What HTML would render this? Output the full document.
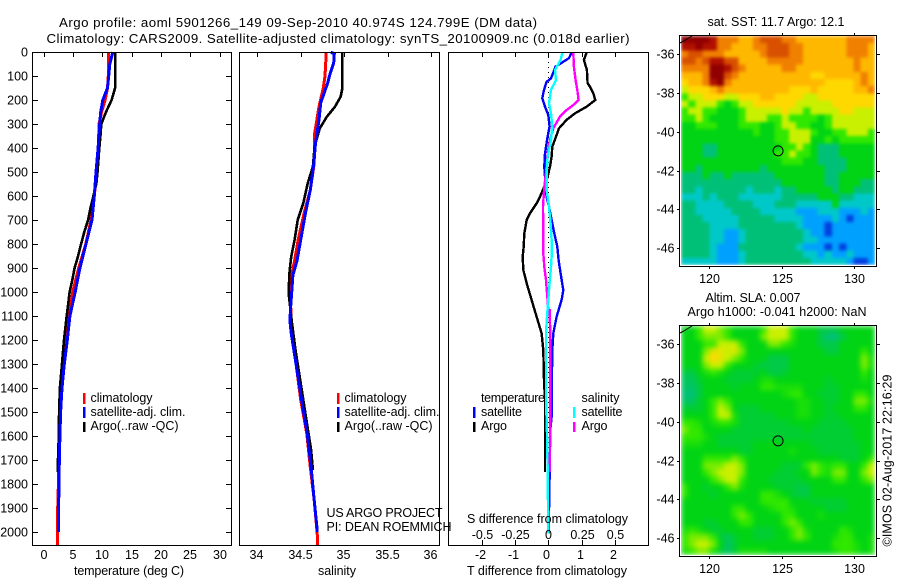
<!DOCTYPE html>
<html>
<head>
<meta charset="utf-8">
<title>Argo profile</title>
<style>
html,body{margin:0;padding:0;background:#fff;}
svg{display:block;}
text{font-family:"Liberation Sans",sans-serif;font-size:12.5px;fill:#000;}
text.big{font-size:13.3px;}
</style>
</head>
<body>
<svg id="chart" width="900" height="580" viewBox="0 0 900 580" xmlns="http://www.w3.org/2000/svg">
<defs>
<filter id="soft-sst" x="0" y="0" width="1" height="1" color-interpolation-filters="sRGB"><feGaussianBlur stdDeviation="1.6" edgeMode="duplicate"/></filter>
<filter id="soft-sla" x="0" y="0" width="1" height="1" color-interpolation-filters="sRGB"><feGaussianBlur stdDeviation="2.6" edgeMode="duplicate"/></filter>
</defs>
<rect x="0" y="0" width="900" height="580" fill="#fff"/>
<g id="marks"></g>
<rect x="32.5" y="52.5" width="199" height="493" fill="none" stroke="#000"/>
<rect x="239.5" y="52.5" width="200" height="493" fill="none" stroke="#000"/>
<rect x="448.5" y="52.5" width="200" height="493" fill="none" stroke="#000"/>
<rect x="679.5" y="35.5" width="197" height="231" fill="none" stroke="#000"/>
<rect x="679.5" y="325.5" width="197" height="231" fill="none" stroke="#000"/>
<g id="ticks"></g>
<text class="big" x="59" y="27" textLength="478" lengthAdjust="spacing">Argo profile: aoml 5901266_149 09-Sep-2010 40.974S 124.799E (DM data)</text>
<text class="big" x="46.5" y="43" textLength="583" lengthAdjust="spacing">Climatology: CARS2009. Satellite-adjusted climatology: synTS_20100909.nc (0.018d earlier)</text>
<text x="74" y="575" textLength="110" lengthAdjust="spacing">temperature (deg C)</text>
<text x="318" y="575" textLength="38" lengthAdjust="spacing">salinity</text>
<text x="467" y="575" textLength="160" lengthAdjust="spacing">T difference from climatology</text>
<text x="467" y="523" textLength="161" lengthAdjust="spacing">S difference from climatology</text>
<text x="326.5" y="517" textLength="116" lengthAdjust="spacing">US ARGO PROJECT</text>
<text x="326.5" y="531" textLength="125" lengthAdjust="spacing">PI: DEAN ROEMMICH</text>

<g>
<rect x="83" y="393" width="2.5" height="11" fill="#f00"/>
<rect x="83" y="407" width="2.5" height="11" fill="#00f"/>
<rect x="83" y="422" width="2.5" height="10" fill="#000"/>
<text x="90.5" y="402" textLength="62" lengthAdjust="spacing">climatology</text>
<text x="90.5" y="416" textLength="95" lengthAdjust="spacing">satellite-adj. clim.</text>
<text x="90.5" y="430" textLength="88" lengthAdjust="spacing">Argo(..raw -QC)</text>
</g>
<g>
<rect x="337" y="393" width="2.5" height="11" fill="#f00"/>
<rect x="337" y="407" width="2.5" height="11" fill="#00f"/>
<rect x="337" y="422" width="2.5" height="10" fill="#000"/>
<text x="344.5" y="402" textLength="62" lengthAdjust="spacing">climatology</text>
<text x="344.5" y="416" textLength="95" lengthAdjust="spacing">satellite-adj. clim.</text>
<text x="344.5" y="430" textLength="88" lengthAdjust="spacing">Argo(..raw -QC)</text>
</g>
<g>
<text x="481" y="402" textLength="64" lengthAdjust="spacing">temperature</text>
<text x="481" y="416" textLength="41" lengthAdjust="spacing">satellite</text>
<text x="481" y="430" textLength="26" lengthAdjust="spacing">Argo</text>
<rect x="473" y="407" width="2.5" height="11" fill="#00f"/>
<rect x="473" y="422" width="2.5" height="10" fill="#000"/>
<text x="581.5" y="402" textLength="38" lengthAdjust="spacing">salinity</text>
<text x="581.5" y="416" textLength="41" lengthAdjust="spacing">satellite</text>
<text x="581.5" y="430" textLength="26" lengthAdjust="spacing">Argo</text>
<rect x="573" y="407" width="2.5" height="11" fill="#0ff"/>
<rect x="573" y="422" width="2.5" height="10" fill="#f0f"/>
</g>
<text x="707.5" y="26" textLength="137" lengthAdjust="spacing">sat. SST: 11.7 Argo: 12.1</text>
<text x="705.5" y="302" textLength="95" lengthAdjust="spacing">Altim. SLA: 0.007</text>
<text x="687.5" y="316" textLength="179" lengthAdjust="spacing">Argo h1000: -0.041 h2000: NaN</text>
<text transform="translate(891.5 546.5) rotate(-90)" x="0" y="0" textLength="172" lengthAdjust="spacing">©IMOS 02-Aug-2017 22:16:29</text>
</svg>
<script>
// ---------- profile data ----------
const tempClimDepth = [0,100,150,200,250,300,400,500,600,700,800,900,1000,1100,1200,1300,1400,1500,1600,1700,1800,1900,2000,2055];
const tempClimValue = [11.04,11.04,10.9,10.5,9.9,9.45,9.35,9.05,8.65,8.1,7.2,6.0,4.97,4.35,3.85,3.44,3.04,2.8,2.7,2.6,2.53,2.42,2.42,2.42];
const tempSatDepth = [0,50,100,150,200,250,300,400,500,600,700,800,900,1000,1100,1200,1300,1400,1500,1600,1700,1800,1900,2000];
const tempSatValue = [11.8,11.3,11.1,10.9,10.1,9.74,9.57,9.3,8.94,8.65,8.26,7.24,6.2,5.4,4.5,4.06,3.55,3.15,2.92,2.8,2.7,2.65,2.55,2.55];
const tempArgoDepth = [0,150,200,250,300,350,400,500,550,600,650,700,750,800,850,900,950,1000,1050,1100,1200,1300,1400,1500,1600,1700,1750];
const tempArgoValue = [12.2,12.2,11.6,10.65,9.85,9.7,9.5,9.2,9.0,8.5,8.0,7.6,6.95,6.4,5.9,5.3,4.9,4.45,4.2,3.95,3.5,3.15,2.8,2.65,2.6,2.47,2.4];

const salClimDepth = [0,100,150,228,340,465,575,670,783,870,930,1060,1172,1310,1450,1590,1730,1867,2005,2055];
const salClimValue = [34.795,34.78,34.76,34.71,34.66,34.655,34.61,34.54,34.47,34.43,34.395,34.385,34.395,34.45,34.5,34.57,34.61,34.655,34.69,34.695];
const salSatDepth = [0,8,46,87,130,171,212,283,380,465,575,670,783,870,930,1060,1117,1172,1310,1450,1590,1730,1867,1992,2000];
const salSatValue = [34.845,34.887,34.88,34.84,34.81,34.77,34.73,34.71,34.67,34.65,34.61,34.555,34.5,34.457,34.41,34.385,34.375,34.39,34.45,34.51,34.575,34.62,34.655,34.69,34.69];
const salArgoDepth = [0,150,186,228,270,318,394,478,547,630,700,783,853,922,1005,1033,1117,1242,1380,1520,1658,1742];
const salArgoValue = [34.98,34.98,34.96,34.895,34.8,34.72,34.66,34.64,34.58,34.53,34.465,34.43,34.39,34.37,34.36,34.37,34.395,34.44,34.5,34.56,34.62,34.64];

const diffTArgoDepth = [3,33,75,130,144,172,200,228,256,283,318,353,394,436,478,519,561,603,631,672,700,756,811,853,908,964,1033,1103,1172,1242,1367,1450,1750];
const diffTArgoValue = [1.15,1.07,1.16,1.18,1.25,1.35,1.41,1.15,0.8,0.55,0.32,0.23,0.12,0.1,0.05,-0.02,-0.12,-0.25,-0.35,-0.55,-0.65,-0.72,-0.74,-0.77,-0.75,-0.65,-0.5,-0.35,-0.2,-0.15,-0.13,-0.1,-0.1];
const diffTSatDepth = [3,26,61,110,124,158,193,228,262,311,353,422,478,519,561,603,644,700,756,811,867,922,992,1033,1103,1172,1242,1450,1520,1575,1770,2006];
const diffTSatValue = [0.7,0.62,0.22,0.08,-0.05,-0.13,-0.18,-0.1,0,0.04,-0.02,-0.1,-0.12,-0.1,-0.08,-0.05,0.02,0.1,0.18,0.27,0.31,0.37,0.45,0.4,0.25,0.15,0.12,0.1,0.1,0.06,0.04,0.01];
const diffSSatDepth = [3,33,75,117,158,214,256,311,367,436,506,575,644,714,783,853,894,992,1033,1103,1172,1311,1450,1589,1728,2006];
const diffSSatValue = [0.105,0.0925,0.05,0.0575,0.02,0.005,0.02,0.03,0.02,-0.005,-0.0125,-0.0125,0.005,0.0175,0.025,0.025,0.02,0.005,0,-0.01,-0.0175,-0.0175,-0.0175,-0.01,-0.005,0];
const diffSArgoDepth = [3,61,117,158,200,221,242,269,318,367,422,506,561,644,783,839,894,950,1019,1075,1075,1172,1311,1450,1589,1750];
const diffSArgoValue = [0.1875,0.1925,0.205,0.2175,0.2275,0.1875,0.1375,0.0875,0.0375,0.0125,-0.005,-0.0175,-0.03,-0.04,-0.0375,-0.0375,-0.03,-0.0175,-0.0075,0,0.01,0.015,0.015,0.015,0.015,0.01];

// ---------- tick labels ----------
const depthTicks = [0,100,200,300,400,500,600,700,800,900,1000,1100,1200,1300,1400,1500,1600,1700,1800,1900,2000];
const tempTicks = [0,5,10,15,20,25,30];
const salTicks = [34,34.5,35,35.5,36];
const diffTTicks = [-2,-1,0,1,2];
const diffSTicks = [-0.5,-0.25,0,0.25,0.5];
const lonTicks = [120,125,130];
const latTicks = [-36,-38,-40,-42,-44,-46];
const argoLon = 124.799;
const argoLat = -40.974;

// ---------- map colour levels (0 deep blue .. 12 dark red), rows north to south ----------
const sstLevels = [
[12,12,12,12,11,9,9,9,8,8,9,10,10,10,9,9,8,8,8,8,8,8,8,9,9,9,9],
[11,11,12,11,11,9,9,8,8,8,9,9,10,10,10,9,9,8,8,8,8,8,8,9,9,9,8],
[9,10,10,9,9,9,8,8,8,8,8,9,10,10,10,9,9,8,8,8,8,8,8,9,9,9,8],
[10,10,9,10,11,11,10,10,8,8,8,8,9,9,9,9,9,8,8,8,8,8,8,8,9,8,8],
[9,9,9,9,12,12,11,10,9,8,8,8,8,8,9,9,8,8,8,8,8,8,8,8,9,8,8],
[8,8,8,9,12,12,10,9,8,8,8,8,8,8,8,8,8,8,7,7,8,8,8,8,8,9,8],
[7,8,8,9,11,12,9,8,8,8,8,8,8,8,8,8,8,8,8,8,7,7,7,7,8,9,8],
[6,7,7,7,8,9,8,8,8,8,8,8,8,8,8,7,7,7,8,7,7,7,7,7,8,8,9],
[5,6,6,7,7,7,6,6,7,7,7,8,8,7,7,7,7,6,6,7,7,7,7,7,7,7,7],
[6,5,6,6,6,5,4,5,6,6,7,7,7,7,7,7,6,6,6,6,6,7,7,7,7,7,7],
[5,6,6,5,5,4,4,4,5,6,6,6,6,6,7,6,6,5,6,6,6,6,7,7,6,6,6],
[5,5,6,5,4,4,4,4,5,6,6,6,5,5,6,5,5,5,5,4,5,6,6,6,6,6,6],
[4,4,5,5,5,4,4,4,5,5,5,4,4,5,6,6,5,5,4,4,5,6,6,6,6,6,6],
[4,4,4,4,4,4,4,4,4,4,5,4,4,5,5,6,6,6,5,4,4,5,5,6,6,6,5],
[4,4,4,4,4,4,4,4,4,4,4,4,4,5,5,6,6,6,4,4,5,4,5,5,5,5,5],
[4,4,4,3,3,4,4,4,4,4,4,4,4,4,5,5,6,5,4,3,3,3,4,4,4,4,4],
[4,4,4,3,3,4,4,4,4,4,4,4,4,5,5,6,5,5,4,3,3,3,4,4,4,4,4],
[4,4,4,4,4,4,4,4,4,4,4,4,4,4,5,5,5,4,4,3,3,3,3,4,4,4,4],
[4,4,3,4,4,4,4,4,4,4,4,3,4,4,4,4,4,4,4,4,3,3,3,4,4,4,4],
[3,3,3,4,3,3,4,3,3,3,3,3,3,4,4,4,4,4,4,4,3,3,4,4,4,4,4],
[3,3,3,3,3,3,3,3,3,3,3,3,3,3,4,4,4,4,4,4,3,3,4,4,4,3,3],
[3,3,2,3,3,3,3,3,3,2,3,3,3,2,3,3,4,4,4,4,4,3,4,4,3,3,3],
[2,2,2,3,2,3,3,3,2,2,2,2,2,2,3,3,3,3,3,4,4,4,3,3,2,2,2],
[3,3,2,2,2,2,3,3,3,3,2,2,2,3,3,3,2,2,2,2,2,4,2,2,2,2,2],
[3,3,2,2,2,2,2,3,3,3,3,2,2,2,2,2,1,1,1,2,2,2,1,1,1,2,1],
[3,3,3,2,2,2,2,2,3,3,3,3,3,2,2,2,2,1,1,1,1,2,1,0,1,1,1],
[3,3,3,3,2,2,2,2,3,3,3,3,3,3,3,3,2,1,1,1,0,1,1,1,1,1,1],
[3,3,3,3,2,2,1,1,2,3,3,3,3,3,3,3,3,2,1,1,0,1,1,1,1,1,1],
[3,3,3,3,2,2,1,1,2,3,3,3,3,3,3,3,3,2,2,1,1,1,1,1,1,1,1],
[3,3,3,3,2,1,1,1,3,3,3,3,3,3,3,3,2,1,1,1,0,1,0,1,1,1,1],
[3,3,3,3,2,1,1,1,2,3,3,3,3,3,3,3,3,2,2,1,2,1,1,2,1,1,1],
[2,2,2,2,2,1,1,1,2,3,3,3,3,3,3,3,3,3,2,2,2,2,2,1,0,0,1]
];
const slaLevels = [
[4,4,5,6,6,5.5,5,4,4,4,4,5,6,6,6,5,4,4,4,3.5,3.5,3.5,4,4,4,4,4],
[4,4,5,5.5,5.5,5.5,5,4,4,4,4,5.5,6,6,6,5,4,4,4,3.5,3,3,3.5,4,4,4,4],
[4,4,4,5,5,6,6,6,5,4,4,4,5.5,5.5,5,4.5,4,4,4,3.5,3.5,3.5,4,4,4,4,4],
[4,4,4,5.5,6.5,6.5,6,6.5,5.5,4,4,4,4,4,4,4,4,4,4,4,3.5,3.5,4,4,4,5,4],
[4,4,4,6,7,6.5,6,5.5,5,4,4,4,3.5,3.5,3.5,4,4,4,4,4,4,4,4,4,4,5.5,4.5],
[4,4,4,5.5,6,6,5,4,4,4,3.7,3.5,3.5,3.5,3.5,4,4,4,4,4,4,4,4,4,4,5.5,4.5],
[3.5,3.5,4,4.5,5,4.5,4,3.7,3.7,3.7,3.7,4,3.5,3.5,3.7,4,4,4,4,4,4,4,4,4,4,5,4],
[3.3,3.3,3.7,4,4,4,3.7,3.7,3.7,3.7,4,4.5,4.5,4,4,4,4,4,4,4,3.7,4,4,4,4,4.5,4],
[3.2,3.2,3.5,4,4,4,4,3.7,4,4,4,5,5,4.5,4.5,4.5,4.5,4,4,4,3.7,3.7,4,4,4,4,4],
[3,3,3.5,4,4,4,4,4,4,4,4,4,4,4,4.5,5,5,4,4,3.7,3.7,3.7,4,4,5,5,4],
[3.2,3.2,3.7,4,5,5.5,5,4,4,4,4,4,4,4,4,4,4.5,4.5,4,4,3.7,3.7,4,4,5.5,5.5,4.5],
[3.7,3.7,3.7,4,5,6,5.5,4,3.7,3.7,3.7,4,4,4,4,4,4.5,4.5,4,4,3.7,4,4,4,5,5,4],
[4,4,4,4,5,6,6,4.5,3.7,3.7,3.7,3.7,3.7,4,4,4,4.5,4.5,4,4,3.7,3.7,4,4,4,4,4],
[5,5,4.5,4,4.5,5,5,4.5,3.7,3.7,3.7,3.7,3.7,3.7,3.7,4,4,4,4,3.7,3.7,3.7,3.7,4,4,4,4],
[5.5,5,5,4,4,4,4,3.7,3.7,3.7,3.7,3.7,3.7,3.7,3.7,3.7,3.7,4,3.7,3.7,3.7,3.7,3.7,3.7,4,4,4],
[5,5,5,4.5,4,3.7,3.7,3.7,3.7,3.7,3.7,3.7,3.7,3.7,3.7,3.7,3.7,3.7,3.7,3.7,3.7,3.7,3.7,3.7,4,4,4],
[4.5,4.5,4.5,4,4,3.7,3.7,3.7,3.7,3.7,4,4,4,4,4,4,4,4,3.7,3.7,3.7,3.7,3.7,3.7,3.7,4,4],
[4,4,4,4,4,4,4,4,3.7,3.7,4,4,4,4,4,4.5,4,4,4,3.7,3.7,3.7,3.7,3.7,3.7,4,4],
[4,4,4,5,5,5,5,5.5,5,4,4,4,4,4,4,4,4,4,4,4,4,4,3.7,3.7,3.7,4,5],
[4,4,4,5.5,5.5,5.5,6,6,5.5,4,4,4,4,4,3.7,3.7,3.7,5,5.5,5,4.5,5,5,4,4,5,6],
[4,4,4,5,5.5,6,6,6,5.5,4,4,4,4,3.7,3.7,3.7,4,4,5.5,5,4.5,5.5,5.5,4,4,5.5,6],
[4,4,4,4,5,5.5,6,6,5,4,4,4,3.7,3.7,3.7,3.7,3.7,4,4,4,4,5,5,4,4,5,5.5],
[5,4,4,3.7,4,4,5,5.5,4.5,4,4,4,4,3.7,3.7,3.7,3.5,3.5,4,4,4,4,4,4,4,4,4],
[5,4,4,4,3.7,4,4,4,4,4,4,5,5,4.5,4,3.7,3.5,3.5,4,4,4,4,4,4,4,4,4],
[4,4,4,4,4,4,4,4,4,4,4,5,5,5,5,4,4,4,3.7,3.7,3.7,3.7,3.7,4,4,4,4],
[4,4,4,4,4,4,4,5,5,4,4,4,4.5,5,5,4.5,4,4,4,4,3.7,3.7,3.7,4,4,4,4],
[4,4,4,4,4,4,4,5,5.5,5,4,4,4,4,5,5,4,4,4,4.5,4,4,4,4,4,4,4],
[4,4,4,3.7,3.7,4,4,4,5,5,4,4,4,4,5,5.5,5,4,4,4,4,4,4,4,4,4,4],
[4.5,5,4.5,4,3.7,3.7,4,4,4,4,3.7,3.7,3.7,4,4,5,5.5,4.5,4,4,4,4,5,4.5,4,4,4],
[5,5.5,5.5,5.5,5,3.7,3.3,3.7,4,4,3.7,3.7,3.7,4,4,5,5.5,5,4,4,4,4.5,5,5,4,4,4.5],
[5,5.5,6,6,5.5,4,3.2,3.7,4,4,4,4,4,4,4,4,4,4,4,4,4,5,5,5,4.5,4,4.5],
[4.5,5,5.5,5.5,4.5,3.7,3.2,3.7,4.5,4.5,4.5,4.5,4,4,4,4,4,4,4,4,4,4.5,5,5,4.5,4,4.5]
];

// ---------- axis functions ----------
const SVGNS = 'http://www.w3.org/2000/svg';
const marks = document.getElementById('marks');
const ticks = document.getElementById('ticks');
function depthY(d){ return 52 + d * 0.24; }
function tempX(v){ return 43.5 + v * 5.87; }
function salX(v){ return 257.3 + (v - 34) * 86.85; }
function diffTX(v){ return 548.3 + v * 33.3; }
function diffSX(v){ return 548.3 + v * 133.2; }
function lonX(v){ return 708.7 + (v - 120) * 14.56; }
function sstLatY(v){ return 54.3 + (-36 - v) * 19.37; }
function slaLatY(v){ return 344.3 + (-36 - v) * 19.37; }

const paletteStops = [[0,64,224],[0,160,255],[0,200,200],[0,192,120],[0,212,20],[48,232,0],[200,240,0],[255,216,0],[255,184,0],[240,128,0],[216,80,0],[176,16,0],[144,0,0]];
function levelColor(v){
  const i = Math.max(0, Math.min(paletteStops.length - 2, Math.floor(v)));
  const t = Math.max(0, Math.min(1, v - i));
  const a = paletteStops[i], b = paletteStops[i + 1];
  const c = a.map(function(p, k){ return Math.round(p + (b[k] - p) * t); });
  return 'rgb(' + c.join(',') + ')';
}
function make(parent, tag, attrs){
  const el = document.createElementNS(SVGNS, tag);
  Object.keys(attrs).forEach(function(k){ el.setAttribute(k, attrs[k]); });
  parent.appendChild(el);
  return el;
}
function drawLine(name, depths, values, xFn, color, width){
  const pts = values.map(function(v, i){ return xFn(v).toFixed(1) + ',' + depthY(depths[i]).toFixed(1); }).join(' ');
  const el = make(marks, 'polyline', {points: pts, fill: 'none', stroke: color, 'stroke-width': width, 'shape-rendering': 'crispEdges'});
  
  
}
function drawTick(x1, y1, x2, y2){
  const el = make(ticks, 'line', {x1: x1, y1: y1, x2: x2, y2: y2, stroke: '#000', 'stroke-width': 1, 'shape-rendering': 'crispEdges'});
  
  
}
function drawLabel(text, x, y, anchor){
  const el = make(ticks, 'text', {x: x, y: y, 'text-anchor': anchor});
  
  
  el.textContent = text;
}
function drawMap(name, levels, left, top, right, bottom, filterId){
  const g = make(marks, 'g', {filter: 'url(#' + filterId + ')'});
  
  
  const cw = (right - left) / levels[0].length;
  const ch = (bottom - top) / levels.length;
  levels.forEach(function(row, r){
    row.forEach(function(v, c){
      const cell = make(g, 'rect', {x: left + c * cw, y: top + r * ch, width: c === row.length - 1 ? cw : cw + 0.5, height: r === levels.length - 1 ? ch : ch + 0.5, fill: levelColor(v), 'shape-rendering': 'crispEdges'});
      
      
    });
  });
}

// ---------- maps ----------
drawMap('sst-heatmap', sstLevels, 681, 36, 875, 265, 'soft-sst');
drawMap('sla-heatmap', slaLevels, 681, 326, 875, 555, 'soft-sla');
[36, 326].forEach(function(top){
  const coast = make(marks, 'polyline', {points: '680,' + (top + 7) + ' 684,' + (top + 5) + ' 687,' + (top + 3) + ' 692,' + top, fill: 'none', stroke: '#000', 'stroke-width': 1});
  
  
});
const sstMarker = make(marks, 'circle', {cx: lonX(argoLon) - 0.5, cy: sstLatY(argoLat) + 0.2, r: 5, fill: 'none', stroke: '#000', 'stroke-width': 1});


const slaMarker = make(marks, 'circle', {cx: lonX(argoLon) - 0.5, cy: slaLatY(argoLat) + 0.2, r: 5, fill: 'none', stroke: '#000', 'stroke-width': 1});



// ---------- profile lines ----------
drawLine('temperature-climatology-line', tempClimDepth, tempClimValue, tempX, '#f00', 3);
drawLine('temperature-argo-line', tempArgoDepth, tempArgoValue, tempX, '#000', 2.6);
drawLine('temperature-satellite-line', tempSatDepth, tempSatValue, tempX, '#00f', 3);
drawLine('salinity-climatology-line', salClimDepth, salClimValue, salX, '#f00', 3);
drawLine('salinity-argo-line', salArgoDepth, salArgoValue, salX, '#000', 2.6);
drawLine('salinity-satellite-line', salSatDepth, salSatValue, salX, '#00f', 3);
const zeroLine = make(marks, 'line', {x1: diffTX(0), y1: depthY(0), x2: diffTX(0), y2: depthY(2000), stroke: '#000', 'stroke-width': 1, 'stroke-dasharray': '1 4', 'shape-rendering': 'crispEdges'});


drawLine('difference-t-argo-line', diffTArgoDepth, diffTArgoValue, diffTX, '#000', 2.4);
drawLine('difference-t-satellite-line', diffTSatDepth, diffTSatValue, diffTX, '#00f', 2.4);
drawLine('difference-s-argo-line', diffSArgoDepth, diffSArgoValue, diffSX, '#f0f', 2.4);
drawLine('difference-s-satellite-line', diffSSatDepth, diffSSatValue, diffSX, '#0ff', 2.4);

// ---------- ticks and labels ----------
depthTicks.forEach(function(d){
  const y = Math.round(depthY(d)) + 0.5;
  drawTick(33, y, 38, y);
  drawTick(226, y, 231, y);
  drawLabel(String(d), 28, y + 4, 'end');
});
tempTicks.forEach(function(v){
  const x = Math.round(tempX(v)) + 0.5;
  drawTick(x, 52, x, 57);
  drawLabel(String(v), x - 0.5, 559, 'middle');
});
salTicks.forEach(function(v){
  const x = Math.round(salX(v)) + 0.5;
  drawTick(x, 52, x, 57);
  drawLabel(String(v), x - 1, 559, 'middle');
});
diffTTicks.forEach(function(v){
  const x = Math.round(diffTX(v)) + 0.5;
  drawTick(x, 52, x, 57);
  drawLabel(String(v), x - 2, 559, 'middle');
});
diffSTicks.forEach(function(v){
  const x = Math.round(diffSX(v)) + 0.5;
  drawTick(x, 540, x, 545);
  drawLabel(String(v), x, 539, 'middle');
});
lonTicks.forEach(function(v){
  const x = Math.round(lonX(v)) + 0.5;
  drawTick(x, 33, x, 35);
  drawTick(x, 267, x, 269);
  drawLabel(String(v), x, 283, 'middle');
  drawTick(x, 323, x, 325);
  drawTick(x, 557, x, 559);
  drawLabel(String(v), x, 573, 'middle');
});
latTicks.forEach(function(v){
  const y1 = Math.round(sstLatY(v)) + 0.5;
  drawTick(677, y1, 679, y1);
  drawTick(877, y1, 880, y1);
  drawLabel(String(v), 674.5, y1 + 4, 'end');
  const y2 = Math.round(slaLatY(v)) + 0.5;
  drawTick(677, y2, 679, y2);
  drawTick(877, y2, 880, y2);
  drawLabel(String(v), 674.5, y2 + 4, 'end');
});
</script>
</body>
</html>
